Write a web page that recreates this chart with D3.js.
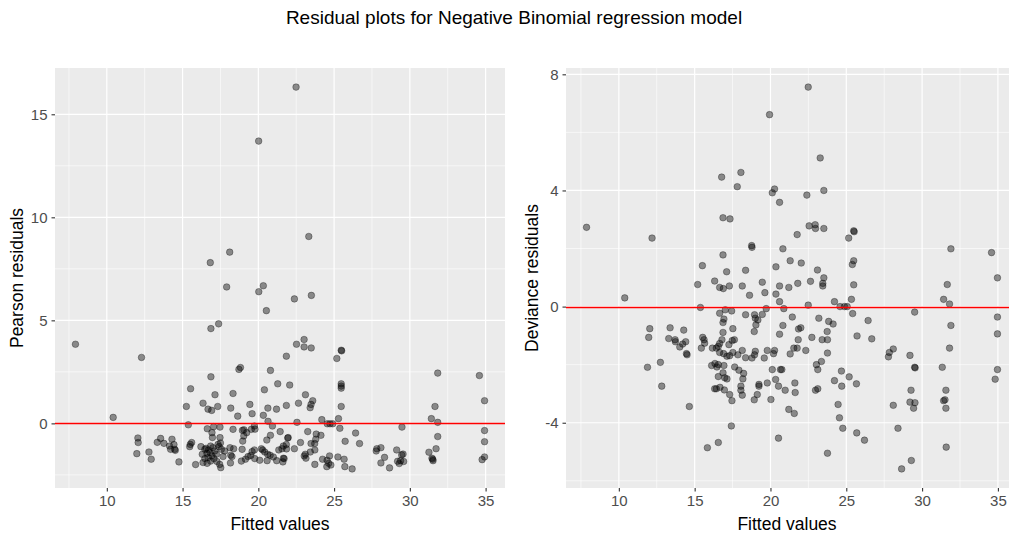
<!DOCTYPE html>
<html>
<head>
<meta charset="utf-8">
<script src="https://cdn.jsdelivr.net/npm/d3@7"></script>
<style>
  html, body { margin: 0; padding: 0; background: #fff; }
  svg { display: block; font-family: "Liberation Sans", Arial, sans-serif; }
</style>
</head>
<body>
<svg id="chart" width="1009" height="540"></svg>
<script>
// Fitted values and Pearson residuals (left panel)
const pearsonFitted = [
  22.49,20.02,23.33,16.83,18.11,17.91,20.03,20.33,20.53,22.38,23.50,16.87,17.38,7.93,12.29,10.42,16.87,15.53,18.72,18.82,
  17.14,18.33,15.25,16.35,16.68,16.92,17.32,18.18,18.64,19.44,19.59,15.38,
  22.52,23.02,23.02,23.49,21.85,25.47,25.50,25.18,20.80,21.28,22.07,20.40,25.47,25.47,25.47,25.47,23.11,23.59,
  23.48,23.42,22.65,21.85,21.20,20.63,20.33,24.19,24.55,24.73,24.91,25.29,22.55,20.64,20.93,25.38,29.48,31.42,31.66,31.84,
  31.84,31.84,31.73,31.26,31.46,31.51,31.53,34.59,34.93,34.93,34.93,34.93,34.77,27.82,27.78,28.09,28.33,28.09,28.66,29.13,
  29.46,29.55,29.19,29.30,29.39,29.59,26.42,26.68,25.73,25.66,25.25,25.71,26.19,24.70,24.24,24.54,24.64,24.52,24.79,23.73,
  24.13,23.82,23.79,23.72,23.73,23.48,23.26,22.78,23.43,23.10,23.03,23.14,22.38,21.94,21.97,21.85,21.65,21.56,21.44,21.35,
  21.86,21.65,21.70,21.62,21.21,20.99,20.80,20.56,20.78,20.62,20.42,20.29,20.20,20.09,20.58,19.74,19.59,19.50,19.76,19.78,
  19.54,19.74,
  12.05,12.07,11.98,12.78,12.93,13.33,13.55,13.77,14.14,14.30,14.43,14.48,14.52,14.21,14.76,15.51,15.60,15.47,15.86,16.63,
  16.94,17.05,17.47,16.97,17.47,17.50,17.41,
  16.21,16.47,16.30,16.55,16.71,16.85,17.00,17.12,17.23,16.94,16.68,16.47,16.35,16.62,16.85,17.07,17.27,17.45,17.52,17.67,
  17.78,17.56,17.34,16.81,16.61,
  18.13,18.37,18.18,18.16,18.26,18.33,18.95,19.04,18.97,18.93,19.05,19.23,19.15,18.88,19.32
];
const pearsonResid = [
  16.32,13.70,9.07,7.80,8.31,6.62,6.39,6.68,5.47,6.04,6.21,4.60,4.83,3.84,3.20,0.29,2.26,1.68,2.62,2.71,
  1.39,1.45,0.82,0.98,0.69,0.63,0.82,0.74,0.35,0.92,0.47,-0.07,
  3.84,4.07,3.71,3.66,3.26,3.55,3.52,3.15,2.57,1.92,1.86,1.63,1.92,1.81,1.71,0.82,1.39,1.10,
  0.92,0.76,0.98,0.87,0.69,0.74,0.39,0.18,-0.02,-0.02,-0.02,0.23,0.05,0.10,-0.13,-0.24,-0.18,0.23,0.82,2.44,
  0.05,-0.64,-1.23,-1.40,-1.69,-1.74,-1.81,2.32,1.10,-0.35,-0.89,-1.63,-1.76,-1.23,-1.34,-1.18,-1.65,-1.92,-2.16,-1.29,
  -1.53,-1.49,-1.84,-1.95,-1.81,-1.85,-0.47,-0.98,-0.87,-1.74,-1.63,-2.10,-2.21,-1.58,-1.74,-1.79,-1.94,-2.10,-2.02,-1.99,
  -0.58,-0.52,-0.77,-0.98,-1.29,-0.98,-0.40,-0.93,-1.39,-1.50,-1.58,-1.69,-1.23,-0.71,-0.69,-1.03,-1.10,-1.23,-0.40,-1.29,
  -1.24,-1.69,-1.71,-1.87,-1.81,-1.63,-0.58,-0.81,-1.55,-1.50,-1.39,-1.29,-1.23,-1.79,-1.81,-1.29,-1.37,-1.56,-1.71,-0.28,
  -0.29,-0.13,
  -0.71,-0.93,-1.47,-1.39,-1.74,-0.92,-0.73,-0.97,-1.10,-0.77,-1.03,-1.26,-1.31,-1.26,-1.87,-1.02,-0.93,-1.13,-2.00,-0.26,
  -0.45,-0.16,-0.18,-0.69,-0.69,-0.95,-1.13,
  -1.13,-1.26,-1.50,-1.21,-1.29,-1.10,-1.18,-1.34,-1.50,-1.58,-1.66,-1.71,-1.90,-1.94,-1.83,-1.71,-1.85,-1.99,-2.15,-1.61,
  -1.34,-1.26,-1.02,-1.42,-1.45,
  -1.18,-1.23,-1.55,-1.92,-1.61,-0.29,-0.34,-0.61,-0.86,-1.26,-0.31,-0.45,-1.74,-1.83,-1.61
];

// Fitted values and deviance residuals (right panel)
const devianceFitted = [
  7.87,12.19,10.39,16.78,18.05,17.81,16.87,17.33,18.76,18.78,16.87,15.51,19.94,22.49,23.28,20.27,20.12,22.40,23.52,20.60,
  22.55,22.95,22.97,23.52,21.76,25.49,25.52,25.16,20.82,31.90,34.58,21.30,22.03,20.36,25.49,25.40,23.10,
  12.04,11.97,11.89,12.74,12.83,13.38,13.29,13.71,13.73,14.28,14.02,14.21,14.41,14.46,14.50,14.65,15.20,15.38,15.53,15.62,
  15.66,15.44,16.32,17.11,16.65,16.89,17.29,16.65,16.93,17.02,16.87,17.44,17.52,16.87,16.80,16.65,16.17,16.43,16.56,16.65,
  16.91,17.13,17.31,17.26,17.48,17.62,17.52,17.85,18.14,16.12,16.34,16.47,16.56,16.93,16.56,16.87,16.98,17.13,16.32,16.43,
  16.67,16.96,17.31,17.46,17.64,17.92,18.23,18.18,17.42,18.05,18.05,18.14,18.36,18.78,18.95,19.00,18.36,18.95,19.00,19.04,
  18.93,19.17,19.46,19.72,18.14,18.62,18.36,19.46,19.63,20.60,20.36,20.60,20.88,21.21,21.80,19.79,20.20,20.27,20.60,20.82,
  21.44,21.85,21.83,21.54,21.76,21.30,20.12,20.66,20.75,20.34,20.53,20.97,19.79,19.24,19.24,19.13,18.93,20.03,21.61,21.63,
  21.21,21.57,19.59,
  23.52,22.64,23.45,23.45,25.49,25.34,24.22,22.49,24.59,24.88,25.06,25.42,26.44,23.19,23.84,24.13,22.00,23.74,22.73,23.41,
  23.76,25.71,26.68,22.33,23.76,23.36,23.03,23.12,24.68,25.19,24.22,24.70,25.67,22.97,23.12,24.46,24.55,24.77,27.78,27.84,
  28.10,29.20,29.51,29.54,29.51,29.27,28.10,29.20,29.53,29.44,28.41,31.66,31.42,31.81,31.90,31.81,31.33,31.57,31.42,31.51,
  31.57,34.97,34.97,34.97,34.97,34.82,
  20.53,23.76,25.69,26.20,29.29,28.65,31.59,15.84,16.56
];
const devianceResid = [
  2.73,2.36,0.30,4.46,4.62,4.13,3.06,3.02,2.10,2.04,1.78,1.41,6.61,7.56,5.12,4.05,3.92,3.84,4.00,3.59,
  2.78,2.82,2.69,2.69,2.48,2.61,2.58,2.36,1.99,1.99,1.86,1.58,1.50,1.37,1.58,1.45,1.26,
  -0.76,-1.06,-2.09,-1.92,-2.74,-0.73,-1.10,-1.14,-1.21,-0.81,-1.39,-1.29,-1.21,-1.62,-1.66,-3.44,0.76,-0.03,-1.06,-1.14,
  -1.26,-1.43,0.88,1.20,0.66,0.62,0.71,-0.23,-0.43,-0.11,-0.55,-0.15,-0.76,-0.89,-1.14,-1.27,-1.43,-1.43,-1.37,-1.58,
  -1.62,-1.71,-1.69,-1.31,-1.17,-1.14,-1.58,-1.66,-1.51,-2.03,-1.96,-2.08,-2.00,-2.03,-2.41,-2.28,-2.45,-2.49,-2.83,-2.83,
  -2.78,-2.87,-3.03,-3.24,-2.08,-2.19,-2.30,-2.49,-4.11,-2.74,-2.88,-3.05,-1.76,-1.77,-1.66,-1.54,-0.28,-0.28,-0.40,-0.63,
  -0.86,-0.46,-0.27,-0.07,0.71,0.39,1.25,0.84,0.48,0.71,0.43,0.17,-0.07,0.66,0.80,-1.51,-1.62,-1.51,-0.95,-0.65,
  -0.36,-0.77,-1.14,-1.43,-1.43,-1.63,-2.17,-2.17,-2.17,-2.51,-2.74,-2.88,-2.63,-2.68,-2.74,-3.03,-3.21,-3.20,-2.63,-2.96,
  -3.54,-3.68,-1.77,
  0.99,0.87,0.80,0.71,0.75,0.25,0.17,0.05,0.00,0.00,0.00,-0.24,-0.48,-0.40,-0.51,-0.60,-0.73,-0.86,-1.06,-1.14,
  -1.14,-1.01,-1.11,-1.51,-1.60,-1.89,-2.00,-2.17,-2.22,-2.42,-2.55,-2.74,-2.66,-2.88,-2.83,-3.37,-3.83,-4.19,-1.73,-1.58,
  -1.46,-1.68,-2.09,-2.11,-0.19,-2.88,-3.40,-3.29,-3.31,-3.50,-4.19,0.76,0.25,0.09,-0.65,-1.43,-2.09,-2.88,-3.24,-3.21,
  -3.50,0.99,-0.36,-0.94,-2.17,-2.50,
  -4.53,-5.05,-4.35,-4.60,-5.30,-5.59,-4.84,-4.86,-4.68
];

// Tick positions
const fittedTicks = [10, 15, 20, 25, 30, 35];
const pearsonTicks = [0, 5, 10, 15];
const devianceTicks = [-4, 0, 4, 8];

const chartTitle = "Residual plots for Negative Binomial regression model";
const xTitle = "Fitted values";

const FONT = "'Liberation Sans', Arial, sans-serif";
const svg = d3.select("#chart");

svg.append("text")
  .attr("x", 514).attr("y", 24)
  .attr("text-anchor", "middle")
  .attr("font-size", 19)
  .attr("fill", "#000")
  .text(chartTitle);

// ggplot-style continuous scale: data range padded by 5% each side
function padded(values) {
  const [a, b] = d3.extent(values);
  const w = b - a;
  return [a - 0.05 * w, b + 0.05 * w];
}

function minorsOf(ticks, domain) {
  const step = ticks[1] - ticks[0];
  const out = [];
  for (let t = ticks[0] - step / 2; t <= domain[1]; t += step) {
    if (t >= domain[0]) out.push(t);
  }
  return out;
}

function panel(opts) {
  const { left, top, width, height, xs, ys, xTicks, yTicks, yTitle, yTitleX, xTitleX, clipId } = opts;
  const x = d3.scaleLinear().domain(padded(xs)).range([left, left + width]);
  const y = d3.scaleLinear().domain(padded(ys)).range([top + height, top]);

  svg.append("clipPath").attr("id", clipId)
    .append("rect").attr("x", left).attr("y", top).attr("width", width).attr("height", height);

  const g = svg.append("g");
  g.append("rect")
    .attr("x", left).attr("y", top).attr("width", width).attr("height", height)
    .attr("fill", "#EBEBEB");

  const grid = g.append("g").attr("clip-path", `url(#${clipId})`);
  // minor grid
  grid.selectAll(".mx").data(minorsOf(xTicks, x.domain())).join("line")
    .attr("x1", d => x(d)).attr("x2", d => x(d))
    .attr("y1", top).attr("y2", top + height)
    .attr("stroke", "#fff").attr("stroke-width", 0.6);
  grid.selectAll(".my").data(minorsOf(yTicks, y.domain())).join("line")
    .attr("y1", d => y(d)).attr("y2", d => y(d))
    .attr("x1", left).attr("x2", left + width)
    .attr("stroke", "#fff").attr("stroke-width", 0.6);
  // major grid
  grid.selectAll(".Mx").data(xTicks).join("line")
    .attr("x1", d => x(d)).attr("x2", d => x(d))
    .attr("y1", top).attr("y2", top + height)
    .attr("stroke", "#fff").attr("stroke-width", 1.2);
  grid.selectAll(".My").data(yTicks).join("line")
    .attr("y1", d => y(d)).attr("y2", d => y(d))
    .attr("x1", left).attr("x2", left + width)
    .attr("stroke", "#fff").attr("stroke-width", 1.2);

  // points
  const pts = xs.map((v, i) => [v, ys[i]]);
  grid.selectAll("circle").data(pts).join("circle")
    .attr("cx", d => x(d[0])).attr("cy", d => y(d[1]))
    .attr("r", 3.3)
    .attr("fill", "#000").attr("fill-opacity", 0.42)
    .attr("stroke", "#000").attr("stroke-opacity", 0.45).attr("stroke-width", 0.7);

  // zero reference line, snapped to the pixel grid so it stays bright red
  const y0 = Math.round(y(0)) + 0.5;
  grid.append("line")
    .attr("x1", left).attr("x2", left + width)
    .attr("y1", y0).attr("y2", y0)
    .attr("stroke", "#FF0000").attr("stroke-width", 1.6);

  // axes
  const xAxis = g.append("g").attr("transform", `translate(0,${top + height})`)
    .call(d3.axisBottom(x).tickValues(xTicks).tickSize(3.5).tickPadding(4).tickFormat(d3.format("d")));
  const yAxis = g.append("g").attr("transform", `translate(${left},0)`)
    .call(d3.axisLeft(y).tickValues(yTicks).tickSize(3.5).tickPadding(4)
      .tickFormat(d => String(d).replace("\u2212", "-")));
  [xAxis, yAxis].forEach(a => {
    a.select(".domain").remove();
    a.selectAll(".tick line").attr("stroke", "#333").attr("stroke-width", 1.1);
    a.selectAll(".tick text").attr("fill", "#4D4D4D").attr("font-size", 15)
      .attr("font-family", FONT);
  });

  svg.append("text")
    .attr("x", xTitleX).attr("y", 530)
    .attr("text-anchor", "middle").attr("font-size", 17.5).attr("fill", "#000")
    .text(xTitle);

  svg.append("text")
    .attr("transform", `translate(${yTitleX},${top + height / 2}) rotate(-90)`)
    .attr("text-anchor", "middle").attr("font-size", 17.5).attr("fill", "#000")
    .text(yTitle);
}

panel({
  left: 55, top: 68, width: 450, height: 420,
  xs: pearsonFitted, ys: pearsonResid,
  xTicks: fittedTicks, yTicks: pearsonTicks,
  yTitle: "Pearson residuals", yTitleX: 23, xTitleX: 280, clipId: "clipL"
});

panel({
  left: 566, top: 68, width: 452, height: 420,
  xs: devianceFitted, ys: devianceResid,
  xTicks: fittedTicks, yTicks: devianceTicks,
  yTitle: "Deviance residuals", yTitleX: 538, xTitleX: 787, clipId: "clipR"
});
</script>
</body>
</html>
